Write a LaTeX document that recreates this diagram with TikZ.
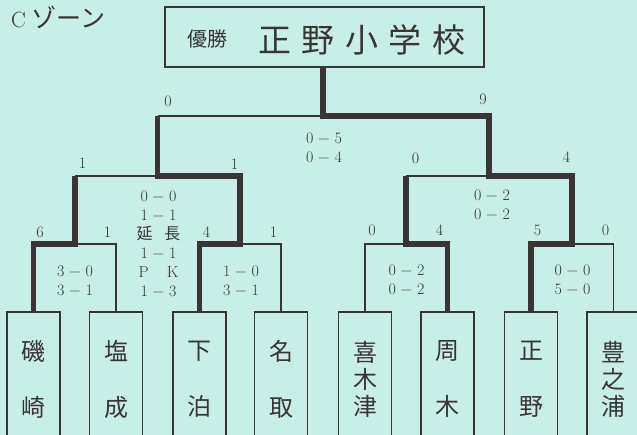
\documentclass[tikz,border=0pt]{standalone}
\usepackage{fontspec}
\newfontfamily\jpfont{Noto Sans CJK JP}
\usetikzlibrary{positioning}
\definecolor{paper}{RGB}{199,239,231}
\definecolor{ink}{RGB}{58,52,52}

\begin{document}
\begin{tikzpicture}[x=1pt, y=-1pt,
    team/.style={draw=ink, line width=1.2pt, minimum width=53pt, minimum height=134pt,
        inner sep=0pt, align=center, text=ink, font=\jpfont\fontsize{24}{27}\selectfont},
    pts/.style={text=ink, inner sep=0pt, font=\fontsize{16}{19}\selectfont},
    score/.style={pts, align=center},
    lost/.style={draw=ink, line width=1.3pt},
    won/.style={draw=ink, line width=5.5pt, line join=miter}]
\clip (0,0) rectangle (637,435);
\fill[paper] (0,0) rectangle (637,435);

\node[anchor=base west, inner sep=0pt, text=ink] (zone) at (11,28)
    {\fontsize{22}{22}\selectfont C\hspace{6pt}\jpfont\fontsize{25}{25}\selectfont ゾーン};

\node[draw=ink, line width=1.2pt, minimum width=319pt, minimum height=60pt] (o) at (324.5,37) {};
\node[text=ink, font=\jpfont\fontsize{20}{20}\selectfont] (yusho) at (207,39) {優勝};
\node[text=ink, font=\jpfont\fontsize{33}{33}\selectfont] (champ) at (362,40)
    {正\hspace{10.5pt}野\hspace{10.5pt}小\hspace{10.5pt}学\hspace{10.5pt}校};

\node[team] (t1) at (33.5,379) {磯\\[29pt]崎};
\node[team] (t2) at (116,379) {塩\\[29pt]成};
\node[team] (t3) at (199.5,379) {下\\[29pt]泊};
\node[team] (t4) at (281,379) {名\\[29pt]取};
\node[team] (t5) at (365,379) {喜\\木\\津};
\node[team] (t6) at (447.5,379) {周\\[29pt]木};
\node[team] (t7) at (531,379) {正\\[29pt]野};
\node[team] (t8) at (613.5,379) {豊\\之\\浦};

\coordinate (m1) at (75,244);
\coordinate (m2) at (240,244);
\coordinate (m3) at (406,244);
\coordinate (m4) at (572,244);
\coordinate (s1) at (157.5,176);
\coordinate (s2) at (489,176);
\coordinate (f) at (323,116);

\draw[lost] (t2.north) |- (m1);
\draw[lost] (t4.north) |- (m2);
\draw[lost] (t5.north) |- (m3);
\draw[lost] (t8.north) |- (m4);
\draw[lost] (m1 |- s1) -- (s1);
\draw[lost] (m3 |- s2) -- (s2);
\draw[lost] (s1 |- f) -- (f);

\draw[won] (t1.north) |- (m1) -- (m1 |- s1);
\draw[won] (t3.north) |- (m2) |- (s1) -- (s1 |- f);
\draw[won] (t6.north) |- (m3) -- (m3 |- s2);
\draw[won] (t7.north) |- (m4) |- (s2) |- (f) -- (f |- o.south);

\node[pts] (fl) at (168,101) {0};
\node[pts] (fr) at (483,99) {9};
\node[pts] (s1l) at (82.5,163) {1};
\node[pts] (s1r) at (234.5,164) {1};
\node[pts] (s2l) at (415.5,158) {0};
\node[pts] (s2r) at (566.5,157) {4};
\node[pts] (m1l) at (40,232) {6};
\node[pts] (m1r) at (107.5,232) {1};
\node[pts] (m2l) at (206.5,232) {4};
\node[pts] (m2r) at (273.5,232) {1};
\node[pts] (m3l) at (372,230) {0};
\node[pts] (m3r) at (439.5,230) {4};
\node[pts] (m4l) at (537.5,230) {5};
\node[pts] (m4r) at (605.5,230) {0};

\node[score] (fsc) at (324,148) {0 − 5\\0 − 4};
\node[score] (s1sc) at (158.5,243.5)
    {0 − 0\\1 − 1\\{\jpfont 延\hspace{12pt}長}\\1 − 1\\P\hspace{18pt}K\\1 − 3};
\node[score] (s2sc) at (492,205) {0 − 2\\0 − 2};
\node[score] (m1sc) at (75,280.5) {3 − 0\\3 − 1};
\node[score] (m2sc) at (241,280.5) {1 − 0\\3 − 1};
\node[score] (m3sc) at (406.5,280) {0 − 2\\0 − 2};
\node[score] (m4sc) at (572.5,280) {0 − 0\\5 − 0};
\end{tikzpicture}
\end{document}
